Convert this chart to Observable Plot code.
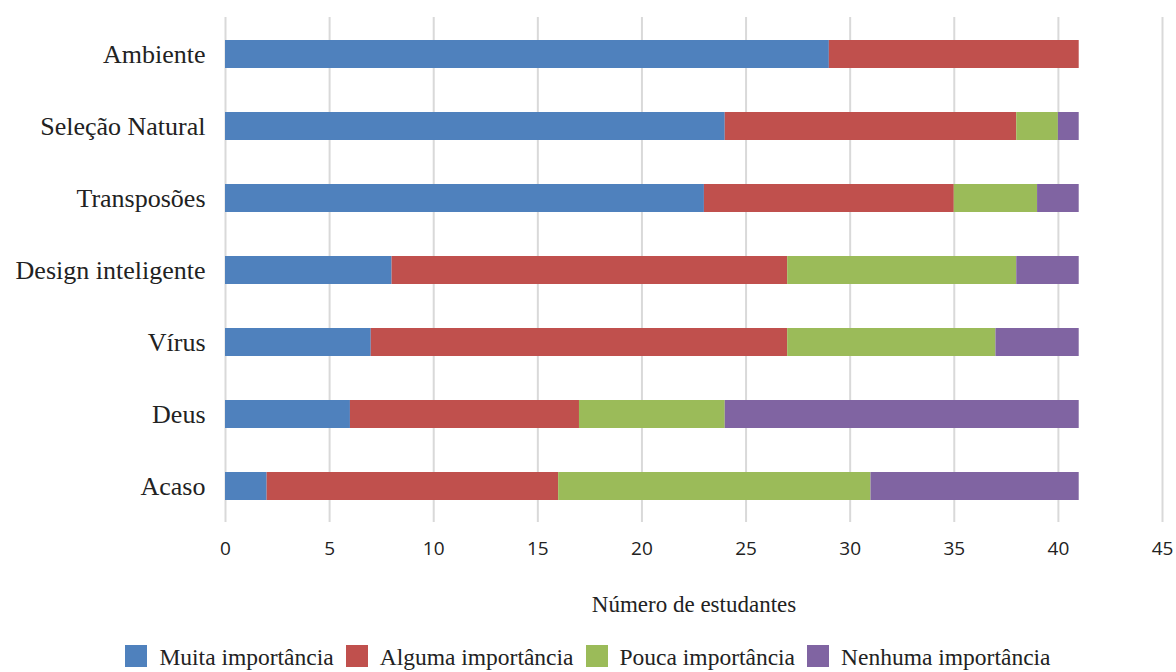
<!DOCTYPE html>
<html>
<head>
<meta charset="utf-8">
<script src="https://cdn.jsdelivr.net/npm/d3@7"></script>
<script src="https://cdn.jsdelivr.net/npm/@observablehq/plot@0.6"></script>
<style>
  html, body { margin: 0; padding: 0; background: #fff; }
  #wrap { position: relative; width: 1176px; height: 672px; overflow: hidden; }
  #legend { position: absolute; left: 0; top: 643px; width: 1176px; display: flex; justify-content: center; gap: 12px;
    font-family: "Liberation Serif", "DejaVu Serif", serif; font-size: 23.5px; color: #222; }
  #legend .item { display: flex; align-items: flex-start; gap: 12px; }
  #legend .sw { width: 22px; height: 22px; display: inline-block; margin-top: 2px; }
  #legend .lab { line-height: 24px; margin-top: 2px; }
</style>
</head>
<body>
<div id="wrap"><div id="chart"></div><div id="legend"></div></div>
<script>
const categories = ["Ambiente", "Seleção Natural", "Transposões", "Design inteligente", "Vírus", "Deus", "Acaso"];
const series = ["Muita importância", "Alguma importância", "Pouca importância", "Nenhuma importância"];
const muita   = [29, 24, 23, 8, 7, 6, 2];
const alguma  = [12, 14, 12, 19, 20, 11, 14];
const pouca   = [0, 2, 4, 11, 10, 7, 15];
const nenhuma = [0, 1, 2, 3, 4, 17, 10];
const colors = ["#4F81BD", "#C0504D", "#9BBB59", "#8064A2"];
const xTicks = [0, 5, 10, 15, 20, 25, 30, 35, 40, 45];
const xLabel = "Número de estudantes";

const valuesBySeries = [muita, alguma, pouca, nenhuma];
const data = [];
categories.forEach((c, i) => {
  series.forEach((s, j) => {
    data.push({category: c, series: s, value: valuesBySeries[j][i]});
  });
});

const serif = "'Liberation Serif', 'DejaVu Serif', serif";
const chart = Plot.plot({
  width: 1176,
  height: 625,
  marginTop: 17,
  marginBottom: 103,
  marginLeft: 225,
  marginRight: 14,
  x: {domain: [0, 45], ticks: xTicks},
  y: {domain: categories, padding: 0},
  color: {domain: series, range: colors},
  marks: [
    Plot.gridX(xTicks, {stroke: "#d9d9d9", strokeOpacity: 1, strokeWidth: 2}),
    Plot.barX(data, Plot.stackX({y: "category", x: "value", fill: "series", order: series, insetTop: 22, insetBottom: 22})),
    Plot.axisX({ticks: xTicks, tickSize: 0, tickPadding: 19, label: null, fontFamily: "'Open Sans', 'Noto Sans', sans-serif", fontSize: 19, fill: "#222"}),
    Plot.axisY({tickSize: 0, tickPadding: 20, label: null, fontFamily: serif, fontSize: 26, fill: "#222"}),
    Plot.text([xLabel], {frameAnchor: "bottom", dy: 89, fontFamily: serif, fontSize: 23, fill: "#222", text: d => d})
  ]
});
document.getElementById("chart").appendChild(chart);

const legend = document.getElementById("legend");
series.forEach((s, j) => {
  const item = document.createElement("div");
  item.className = "item";
  const sw = document.createElement("span");
  sw.className = "sw";
  sw.style.background = colors[j];
  const lab = document.createElement("span");
  lab.className = "lab";
  lab.textContent = s;
  item.appendChild(sw);
  item.appendChild(lab);
  legend.appendChild(item);
});
</script>
</body>
</html>
